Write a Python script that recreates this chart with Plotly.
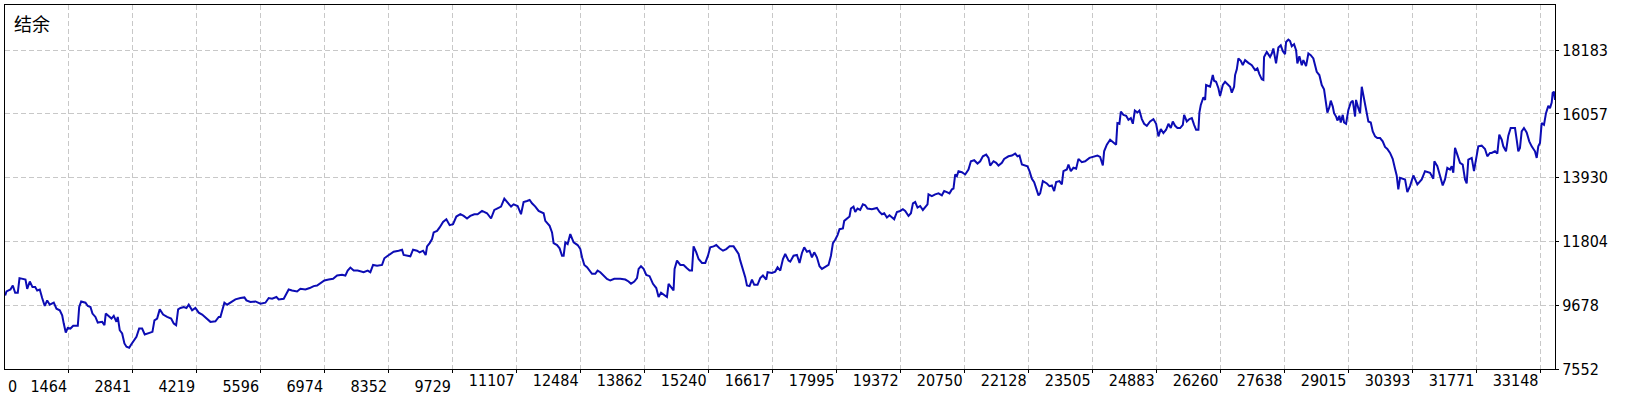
import plotly.graph_objects as go

# balance curve (deal number -> balance)
deals = [
    95, 123, 209, 259, 310, 366, 403, 483, 532, 569, 625, 683, 741, 784, 840, 891, 947, 999, 1055, 1141,
    1199, 1270, 1322, 1356, 1399, 1442, 1500, 1559, 1658, 1688, 1731, 1823, 1873, 1931, 1974, 2038, 2088, 2183, 2232, 2260,
    2325, 2383, 2432, 2490, 2518, 2561, 2613, 2662, 2706, 2764, 2807, 2850, 2921, 2979, 3043, 3099, 3185, 3265, 3308, 3366,
    3422, 3495, 3581, 3667, 3724, 3775, 3818, 3868, 3939, 3997, 4046, 4119, 4190, 4261, 4335, 4406, 4513, 4621, 4692,
    4728, 4786, 4814, 4873, 4944, 5051, 5159, 5245, 5288, 5374, 5482, 5589, 5697, 5768, 5841, 5934, 5983, 6091, 6149, 6198,
    6271, 6379, 6450, 6558, 6650, 6736, 6809, 6880, 6966, 7059, 7154, 7240, 7347, 7418, 7468, 7526, 7597, 7683, 7741, 7812,
    7898, 7956, 8015, 8101, 8208, 8258, 8316, 8387, 8458, 8565, 8639, 8673, 8746, 8817, 8875, 8961, 9017, 9091, 9147, 9177,
    9233, 9284, 9319, 9392, 9448, 9521, 9592, 9663, 9736, 9807, 9893, 9965, 10037, 10108, 10194, 10265, 10360, 10468, 10554, 10625,
    10683, 10769, 10840, 10911, 10985, 11040, 11126, 11199, 11255, 11329, 11385, 11436, 11507, 11578,
    11686, 11722, 11772, 11815, 11867, 11901, 11975, 12030, 12082, 12117, 12153, 12203, 12260, 12332, 12418, 12476, 12513, 12562, 12620, 12676,
    12727, 12798, 12848, 12906, 12977, 13050, 13121, 13207, 13336, 13444, 13515, 13567, 13638, 13696, 13731, 13782, 13838, 13896, 13967, 14040,
    14111, 14161, 14213, 14283, 14341, 14376, 14427, 14483, 14505, 14557, 14628, 14699, 14772, 14828, 14880, 14914, 14972, 15022, 15095, 15166,
    15224, 15273, 15344, 15402, 15473, 15547, 15618, 15689, 15775, 15833, 15883, 15919, 15977, 16026, 16063, 16119, 16171, 16220, 16291, 16349,
    16407, 16478, 16507, 16601, 16672, 16722, 16780, 16838, 16887, 16958,
    16995, 17066, 17139, 17195, 17247, 17296, 17354, 17410, 17462, 17511, 17569, 17625, 17677, 17748, 17819, 17871, 17914, 17963, 18013, 18056,
    18129, 18157, 18228, 18271, 18301, 18357, 18394, 18443, 18501, 18559, 18609, 18658, 18753, 18861, 18917, 18969, 19018, 19076, 19132, 19183,
    19233, 19291, 19362, 19420, 19470, 19541, 19593, 19636, 19685, 19735, 19792, 19850, 19900, 19950, 19971, 20044, 20115, 20187, 20259, 20309,
    20367, 20423, 20475, 20509, 20546, 20582, 20617, 20689, 20761, 20832, 20884, 20955, 21026, 21084, 21142, 21213, 21263, 21299, 21371, 21428,
    21478, 21551, 21600, 21693, 21766, 21837, 21887, 21930, 21982, 22052, 22102, 22145, 22197, 22246, 22289, 22339,
    22375, 22433, 22519, 22575, 22627, 22676, 22719, 22790, 22842, 22876, 22949, 22984, 23035, 23091, 23150, 23199, 23272, 23343, 23436, 23522,
    23608, 23666, 23724, 23752, 23810, 23881, 23953, 24010, 24038, 24081, 24112, 24168, 24226, 24275, 24327, 24370, 24413, 24469, 24512, 24564,
    24613, 24671, 24742, 24813, 24871, 24921, 24972, 25028, 25086, 25136, 25187, 25230, 25280, 25330, 25388, 25446, 25474, 25532, 25588, 25640,
    25689, 25732, 25782, 25803, 25833, 25889, 25926, 25947, 25997, 26033, 26091, 26119, 26162, 26212, 26248, 26307, 26356, 26406, 26464, 26500,
    26550, 26571, 26608, 26642, 26694, 26737, 26786, 26857, 26931, 27002, 27051, 27094, 27146, 27180, 27195, 27253, 27288, 27324, 27361, 27395,
    27453, 27503, 27554, 27597, 27647, 27669, 27718, 27755, 27791, 27841, 27884, 27912, 27955, 28007, 28041, 28099, 28149, 28200, 28256,
    28329, 28385, 28437, 28486, 28529, 28558, 28601, 28631, 28674, 28702, 28745, 28773, 28816, 28846, 28889, 28917, 28960, 29010, 29061, 29104,
    29154, 29175, 29225, 29262, 29298, 29333, 29369, 29405, 29440, 29492, 29535, 29585, 29633, 29692, 29749, 29799, 29848, 29907, 29964, 30014,
    30050, 30085,
    30122, 30230, 30279, 30337, 30409, 30495, 30589, 30660, 30768, 30839, 30861, 30925, 30983, 31041, 31090, 31140, 31198, 31235, 31269, 31306,
    31355, 31413, 31471, 31521, 31557, 31592, 31665, 31714, 31757, 31807, 31880, 31951, 32001, 32059, 32095, 32166, 32216, 32259, 32311, 32345,
    32403, 32453, 32504, 32560, 32597, 32633, 32668, 32704, 32741, 32790, 32848, 32904, 32956, 33027, 33064, 33098, 33135, 33171, 33221, 33264,
    33314, 33350, 33387, 33408, 33436, 33458,
]
balance = [
    10005, 10138, 10204, 10337, 10095, 10095, 10582, 10559, 10536, 10227, 10470, 10284, 10284, 10171, 10204, 9919, 9654, 9840, 9697, 9763,
    9564, 9508, 9342, 9067, 8769, 8925, 8901, 8991, 8991, 9621, 9806, 9763, 9654, 9621, 9399, 9289, 9100, 9124, 9011, 9399,
    9322, 9233, 9322, 9124, 9289, 8845, 8736, 8404, 8295, 8262, 8371, 8480, 8626, 8901, 8901, 8703, 8736, 8792, 9177, 9233,
    9541, 9366, 9289, 9233, 9067, 9011, 9541, 9588, 9621, 9588, 9697, 9508, 9588, 9432, 9366, 9256, 9124, 9143, 9289,
    9289, 9564, 9763, 9697, 9763, 9873, 9919, 9939, 9840, 9787, 9806, 9730, 9763, 9919, 9896, 9952, 9873, 9896, 10062, 10204,
    10171, 10138, 10227, 10204, 10251, 10317, 10337, 10426, 10503, 10536, 10559, 10668, 10692, 10668, 10834, 10934, 10834, 10834, 10801, 10781,
    10834, 10781, 11023, 11000, 11023, 11245, 11311, 11388, 11464, 11497, 11530, 11355, 11331, 11311, 11530, 11497, 11444, 11497, 11355, 11643,
    11752, 11885, 12107, 12160, 12273, 12458, 12548, 12349, 12382, 12637, 12714, 12657, 12571, 12657, 12714, 12714, 12823, 12747, 12571, 12856,
    12903, 12969, 13234, 13102, 12969, 13045, 12989, 12714, 13121, 13155, 13188, 13078, 12969, 12823,
    12747, 12492, 12382, 12326, 12107, 11752, 11686, 11577, 11331, 11331, 11776, 11719, 12051, 11776, 11686, 11553, 11278, 11023, 10947, 10834,
    10725, 10725, 10834, 10781, 10668, 10559, 10503, 10559, 10559, 10536, 10470, 10393, 10470, 10582, 10890, 10980, 10890, 10692, 10648, 10393,
    10251, 9952, 10095, 10005, 9952, 10393, 10284, 10171, 10890, 11166, 11023, 11023, 10913, 10834, 10834, 11643, 11444, 11222, 11089, 11089,
    11331, 11610, 11643, 11686, 11577, 11497, 11553, 11643, 11643, 11497, 11388, 11166, 10890, 10615, 10337, 10317, 10536, 10360, 10360, 10582,
    10668, 10536, 10781, 10758, 10801, 10947, 10834, 11222, 11388, 11166,
    11132, 11331, 11355, 11089, 11421, 11610, 11464, 11497, 11278, 11444, 11278, 10980, 10890, 10947, 11023, 11331, 11752, 11862, 12018, 12216,
    12240, 12492, 12571, 12637, 12903, 12969, 12790, 12903, 12856, 13045, 13012, 12903, 12880, 12923, 12790, 12714, 12747, 12604, 12681, 12604,
    12548, 12790, 12823, 12880, 12823, 12657, 12747, 13078, 13121, 12936, 12989, 12856, 12969, 13045, 13377, 13320, 13377, 13410, 13344, 13486,
    13453, 13410, 13543, 13566, 14040, 13983, 14149, 14116, 14040, 14206, 14481, 14514, 14404, 14481, 14646, 14703, 14593, 14338, 14481, 14428,
    14338, 14428, 14560, 14646, 14670, 14736, 14646, 14670, 14371, 14338, 14315, 14149, 13897, 13784, 13599, 13344,
    13410, 13818, 13741, 13652, 13675, 13486, 13784, 13818, 13708, 14149, 14206, 14371, 14149, 14262, 14229, 14560, 14448, 14481, 14593, 14627,
    14670, 14627, 14338, 14812, 15034, 15200, 15110, 15034, 15754, 15730, 16138, 16029, 15996, 15863, 15919, 15730, 16171, 16105, 16171, 15886,
    15730, 15664, 15807, 15886, 15730, 15309, 15555, 15422, 15531, 15730, 15588, 15807, 15664, 15588, 15588, 15697, 16029, 15807, 15886, 15919,
    15697, 15531, 15531, 16105, 16360, 16615, 16526, 17023, 16990, 16967, 17355, 17166, 17133, 16914, 16659, 17023, 17133, 17056, 16967, 16768,
    16967, 17355, 17544, 17908, 17829, 17686, 17852, 17762, 17686, 17520, 17577, 17388, 17212, 17189, 17961, 18127, 18018, 17961, 18074, 18240,
    17743, 18273, 18349, 18160, 18051, 18459, 18538, 18492, 18316, 18382, 18183, 17743, 17985, 17686, 17852, 17653, 18074, 18018, 17908,
    17464, 17355, 17023, 16881, 16417, 16105, 16284, 16503, 16304, 16085, 15972, 15840, 15996, 15773, 16029, 15773, 15730, 16194, 16436, 16503,
    15972, 16526, 16251, 16085, 16967, 16692, 16417, 16085, 15807, 15773, 15475, 15309, 15256, 15256, 15144, 14958, 14892, 14759, 14560, 14229,
    14007, 13543,
    13930, 13874, 13453, 13652, 14007, 13708, 13874, 14149, 14096, 13897, 14481, 14315, 13983, 13675, 13874, 14262, 14206, 14315, 14096, 14925,
    14703, 14428, 14371, 13874, 13741, 14537, 14593, 14149, 14537, 14978, 15001, 14892, 14646, 14759, 14759, 14812, 14736, 15366, 15200, 14978,
    14812, 15333, 15588, 15588, 15588, 15200, 14812, 14925, 15475, 15588, 15442, 15144, 14978, 14812, 14593, 14978, 15091, 15754, 15697, 16085,
    16327, 16251, 16436, 16768, 16801, 16526,
]

x_ticks = [1464, 2841, 4219, 5596, 6974, 8352, 9729, 11107, 12484, 13862, 15240, 16617,
           17995, 19372, 20750, 22128, 23505, 24883, 26260, 27638, 29015, 30393, 31771, 33148]
y_ticks = [7552, 9678, 11804, 13930, 16057, 18183]
x_range = [91, 33458]
y_range = [7552, 19692]
title_text = "结余"

tickFont = dict(family="DejaVu Sans Condensed, DejaVu Sans", size=16, color="black")
gridProps = dict(showgrid=True, gridcolor="#c8c8c8", gridwidth=1, griddash="5px,3px", zeroline=False,
                 showline=True, linecolor="black", linewidth=1, mirror=True,
                 ticks="outside", ticklen=3, tickcolor="black", tickwidth=1, tickfont=tickFont)

fig = go.Figure()
fig.add_trace(go.Scatter(x=deals, y=balance, mode="lines", line=dict(color="#0c0cb4", width=2),
                         showlegend=False, hoverinfo="skip"))
# invisible copy of the first point so the overlaid label axis gets drawn
fig.add_trace(go.Scatter(x=deals[:1], y=balance[:1], xaxis="x2", mode="markers", marker=dict(opacity=0),
                         showlegend=False, hoverinfo="skip"))

# 4-digit labels on the main axis, 5-digit labels on an overlaid copy so both end at the tick
long_ = [t for t in x_ticks if t >= 10000]
fig.update_layout(
    xaxis=dict(range=x_range, tickvals=x_ticks, ticktext=[str(t) if t < 10000 else "" for t in x_ticks],
               ticklabelshift=-20, **gridProps),
    xaxis2=dict(range=x_range, overlaying="x", anchor="y", side="bottom",
                tickvals=long_, ticktext=[str(t) for t in long_], ticklabelshift=-25,
                showgrid=False, zeroline=False, showline=False, ticks="", tickfont=tickFont),
    yaxis=dict(side="right", range=y_range, tickvals=y_ticks, ticktext=[str(t) for t in y_ticks], **gridProps),
)

fig.add_annotation(text=title_text, xref="paper", yref="paper", x=0, y=1, xanchor="left", yanchor="top",
                   xshift=7, yshift=-3, showarrow=False,
                   font=dict(family="Noto Sans CJK SC", size=18, color="black"))
fig.add_annotation(text="0", xref="paper", yref="paper", x=0, y=0, xanchor="left", yanchor="top",
                   xshift=1, yshift=-6, showarrow=False, font=tickFont)

fig.update_layout(width=1640, height=400, margin=dict(l=4, r=85, t=4, b=29),
                  plot_bgcolor="white", paper_bgcolor="white", hovermode=False)

fig.write_html("out.html", config={"displayModeBar": False, "staticPlot": True},
               post_script="document.body.style.margin='0px';")
